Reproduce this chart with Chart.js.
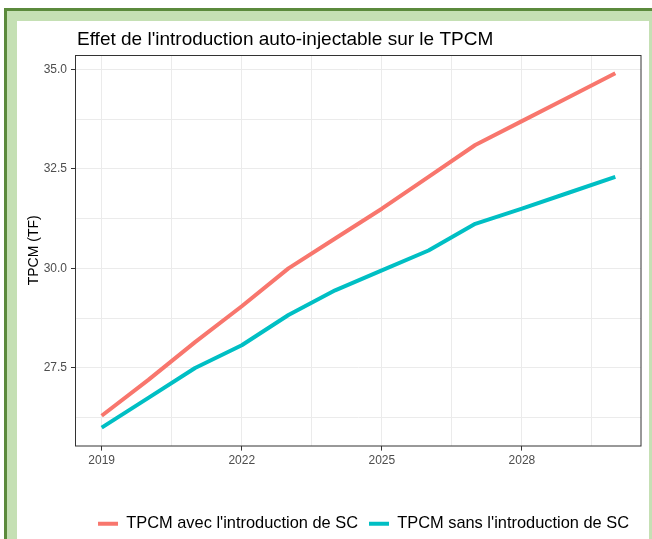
<!DOCTYPE html>
<html>
<head>
<meta charset="utf-8">
<script src="https://cdn.jsdelivr.net/npm/chart.js@4.4.1/dist/chart.umd.min.js"></script>
<style>
  html, body { margin: 0; padding: 0; background: #fff; overflow: hidden; width: 652px; height: 539px; }
  #frame {
    position: absolute; left: 4px; top: 8px; width: 660px; height: 560px;
    border-left: 3px solid #5b8a3c; border-top: 3px solid #5b8a3c;
    background: #c5e0b4;
  }
  #panel { position: absolute; left: 17px; top: 21px; width: 632px; height: 530px; background: #fff; }
  canvas { display: block; }
</style>
</head>
<body>
<div id="frame"></div>
<div id="panel"><canvas id="chart" width="632" height="521"></canvas></div>
<script>
// values
const years = [2019, 2020, 2021, 2022, 2023, 2024, 2025, 2026, 2027, 2028, 2029, 2030];
const tpcmAvecSC = [26.3, 27.2, 28.15, 29.05, 30.0, 30.75, 31.5, 32.3, 33.1, 33.7, 34.3, 34.9];
const tpcmSansSC = [26.0, 26.75, 27.5, 28.07, 28.83, 29.45, 29.95, 30.45, 31.12, 31.5, 31.9, 32.3];
const xTickLabels = [2019, 2022, 2025, 2028];
const yTickLabels = [27.5, 30.0, 32.5, 35.0];

const FONT = '"Liberation Sans", Arial, sans-serif';
const GRID = '#EBEBEB';
const AXIS_TEXT = '#4D4D4D';

// major ticks plus ggplot-style minor lines halfway between them
function withMinor(major, lo, hi) {
  const step = major[1] - major[0];
  const all = [];
  for (let v = major[0] - step; v <= major[major.length - 1] + step; v += step / 2) {
    const r = Math.round(v * 100) / 100;
    if (r >= lo && r <= hi) all.push(r);
  }
  return all;
}

const X_MIN = 2018.45, X_MAX = 2030.55;
const Y_MIN = 25.55, Y_MAX = 35.36;

const titlePlugin = {
  id: 'plotTitle',
  afterDraw(chart) {
    const ctx = chart.ctx;
    ctx.save();
    ctx.fillStyle = '#000';
    ctx.font = '19px ' + FONT;
    ctx.textBaseline = 'alphabetic';
    ctx.textAlign = 'left';
    ctx.fillText("Effet de l'introduction auto-injectable sur le TPCM", chart.chartArea.left + 1, 24);
    ctx.restore();
  }
};

const borderPlugin = {
  id: 'panelBorder',
  // nudge the legend a little right, ggplot centres it slightly off the panel
  afterLayout(chart) {
    if (chart.legend) { chart.legend.left += 5; chart.legend.right += 5; }
  },
  afterDatasetsDraw(chart) {
    const { left, top, right, bottom } = chart.chartArea;
    const ctx = chart.ctx;
    ctx.save();
    ctx.strokeStyle = '#333333';
    ctx.lineWidth = 1;
    ctx.strokeRect(Math.round(left) - 0.5, Math.round(top) + 0.5,
      Math.round(right - left) + 0.5, Math.round(bottom - top) - 0.5);
    ctx.restore();
  }
};

new Chart(document.getElementById('chart'), {
  type: 'line',
  data: {
    datasets: [
      {
        label: "TPCM avec l'introduction de SC",
        data: years.map((y, i) => ({ x: y, y: tpcmAvecSC[i] })),
        borderColor: '#F8766D',
        backgroundColor: '#F8766D',
        borderWidth: 4,
        pointRadius: 0,
        borderJoinStyle: 'round',
        tension: 0
      },
      {
        label: "TPCM sans l'introduction de SC",
        data: years.map((y, i) => ({ x: y, y: tpcmSansSC[i] })),
        borderColor: '#00BFC4',
        backgroundColor: '#00BFC4',
        borderWidth: 4,
        pointRadius: 0,
        borderJoinStyle: 'round',
        tension: 0
      }
    ]
  },
  options: {
    responsive: false,
    animation: false,
    layout: { padding: { top: 34, right: 8, left: 0, bottom: 0 } },
    plugins: {
      title: { display: false },
      tooltip: { enabled: false },
      legend: {
        position: 'bottom',
        fullSize: false,
        labels: {
          usePointStyle: true,
          pointStyle: 'line',
          pointStyleWidth: 20,
          boxHeight: 4,
          padding: 11,
          color: '#000',
          font: { family: FONT, size: 16.4 }
        }
      }
    },
    scales: {
      x: {
        type: 'linear',
        min: X_MIN,
        max: X_MAX,
        afterBuildTicks: s => { s.ticks = withMinor(xTickLabels, X_MIN, X_MAX).map(v => ({ value: v })); },
        afterFit: s => { s.height = 59; },
        ticks: {
          autoSkip: false,
          maxRotation: 0,
          padding: 3,
          color: AXIS_TEXT,
          font: { family: FONT, size: 12 },
          callback: v => xTickLabels.includes(v) ? String(v) : ''
        },
        grid: {
          color: GRID,
          lineWidth: 1,
          tickLength: 5,
          tickColor: c => (c.tick && xTickLabels.includes(c.tick.value)) ? '#333333' : 'rgba(0,0,0,0)'
        },
        border: { display: false }
      },
      y: {
        min: Y_MIN,
        max: Y_MAX,
        afterBuildTicks: s => { s.ticks = withMinor(yTickLabels, Y_MIN, Y_MAX).map(v => ({ value: v })); },
        afterFit: s => { s.width = 59; },
        ticks: {
          autoSkip: false,
          padding: 4,
          color: AXIS_TEXT,
          font: { family: FONT, size: 12 },
          callback: v => yTickLabels.includes(v) ? v.toFixed(1) : ''
        },
        grid: {
          color: GRID,
          lineWidth: 1,
          tickLength: 5,
          tickColor: c => (c.tick && yTickLabels.includes(c.tick.value)) ? '#333333' : 'rgba(0,0,0,0)'
        },
        border: { display: false },
        title: {
          display: true,
          text: 'TPCM (TF)',
          color: '#000',
          font: { family: FONT, size: 14 },
          padding: { top: 9, bottom: 0 }
        }
      }
    }
  },
  plugins: [titlePlugin, borderPlugin]
});
</script>
</body>
</html>
